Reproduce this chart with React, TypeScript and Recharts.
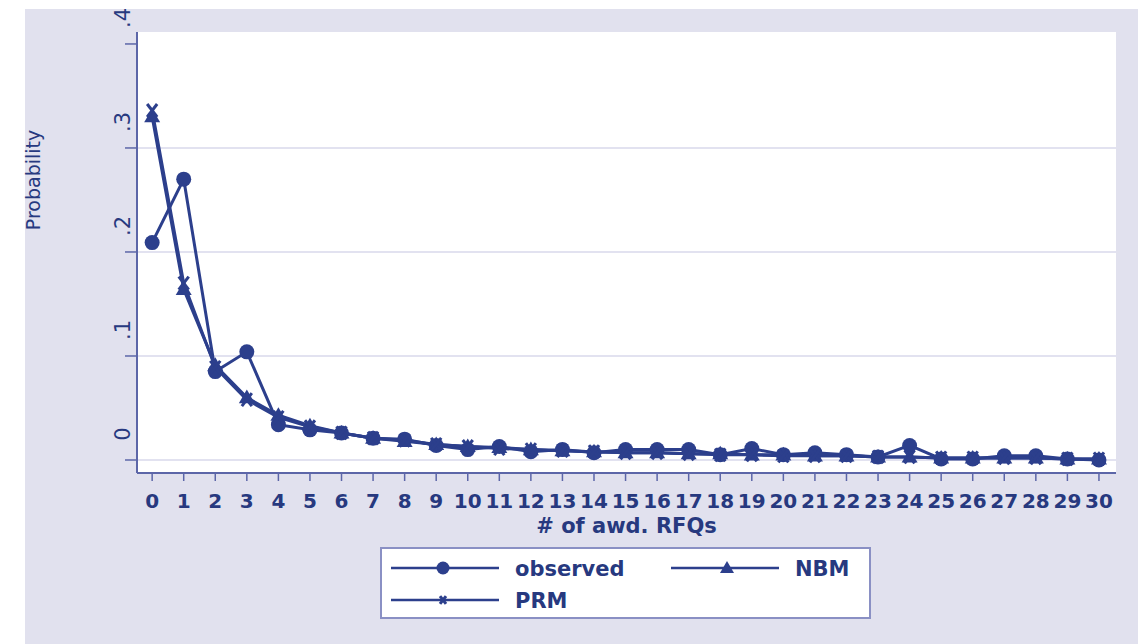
import React from 'react';
import { LineChart, Line, XAxis, YAxis, CartesianGrid } from 'recharts';

const categories = [0, 1, 2, 3, 4, 5, 6, 7, 8, 9, 10, 11, 12, 13, 14, 15, 16, 17, 18, 19, 20, 21, 22, 23, 24, 25, 26, 27, 28, 29, 30];
const observed = [0.209, 0.270, 0.085, 0.104, 0.034, 0.029, 0.026, 0.021, 0.020, 0.014, 0.010, 0.013, 0.008, 0.010, 0.007, 0.010, 0.010, 0.010, 0.005, 0.011, 0.005, 0.007, 0.005, 0.003, 0.014, 0.001, 0.001, 0.004, 0.004, 0.001, 0.000];
const nbm = [0.330, 0.164, 0.091, 0.060, 0.043, 0.033, 0.026, 0.021, 0.018, 0.015, 0.013, 0.012, 0.010, 0.009, 0.008, 0.007, 0.007, 0.006, 0.006, 0.005, 0.005, 0.004, 0.004, 0.003, 0.003, 0.002, 0.002, 0.002, 0.002, 0.001, 0.001];
const prm = [0.336, 0.170, 0.089, 0.058, 0.041, 0.032, 0.026, 0.021, 0.019, 0.015, 0.013, 0.011, 0.010, 0.009, 0.008, 0.007, 0.007, 0.006, 0.005, 0.005, 0.004, 0.004, 0.004, 0.003, 0.003, 0.002, 0.002, 0.002, 0.002, 0.001, 0.001];
const yTicks = [0, 0.1, 0.2, 0.3, 0.4];
const yTickLabels = ['0', '.1', '.2', '.3', '.4'];
const gridValues = [0, 0.1, 0.2, 0.3];
const seriesNames = ['observed', 'NBM', 'PRM'];
const xTitle = '# of awd. RFQs';
const yTitle = 'Probability';

const data = categories.map((c, i) => ({ x: c, observed: observed[i], NBM: nbm[i], PRM: prm[i] }));

const NAVY = '#2c3f8c';
const TEXT = '#27397f';
const BG = '#e1e1ee';
const AXIS = '#5c66a8';
const GRID = '#e2e2f0';
const FONT = 'DejaVu Sans';

const CircleMark = ({ cx, cy, r = 7.5 }: any) =>
  cx == null || cy == null ? null : <circle cx={cx} cy={cy} r={r} fill={NAVY} />;

const TriMark = ({ cx, cy, s = 8 }: any) =>
  cx == null || cy == null ? null : (
    <polygon
      points={`${cx},${cy - s} ${cx - s},${cy + s * 0.7} ${cx + s},${cy + s * 0.7}`}
      fill={NAVY}
    />
  );

const XMark = ({ cx, cy, s = 5 }: any) =>
  cx == null || cy == null ? null : (
    <g stroke={NAVY} strokeWidth={3}>
      <line x1={cx - s} y1={cy - s * 1.3} x2={cx + s} y2={cy + s * 1.3} />
      <line x1={cx + s} y1={cy - s * 1.3} x2={cx - s} y2={cy + s * 1.3} />
    </g>
  );

const YTick = ({ x, y, payload }: any) => {
  let idx = 0;
  yTicks.forEach((t, i) => {
    if (Math.abs(t - payload.value) < Math.abs(yTicks[idx] - payload.value)) idx = i;
  });
  const bx = x + 5;
  const cy = y - 26;
  return (
    <text x={bx} y={cy} transform={`rotate(-90 ${bx} ${cy})`} textAnchor="middle" fill={TEXT} fontSize={21} fontFamily={FONT}>
      {yTickLabels[idx]}
    </text>
  );
};

const XTick = ({ x, y, payload }: any) => (
  <text x={x} y={y} dy={25} textAnchor="middle" fill={TEXT} fontSize={20} fontWeight="bold" fontFamily={FONT}>
    {payload.value}
  </text>
);

const XTitle = (p: any) => {
  const vb = p.viewBox || { x: 137, y: 473, width: 979 };
  return (
    <text x={vb.x + vb.width / 2} y={vb.y + 60} textAnchor="middle" fill={TEXT} fontSize={21} fontWeight="bold" fontFamily={FONT}>
      {xTitle}
    </text>
  );
};

const YTitle = (p: any) => {
  const vb = p.viewBox || { x: 77, y: 32 };
  const bx = vb.x - 37;
  const cy = vb.y + 148;
  return (
    <text x={bx} y={cy} transform={`rotate(-90 ${bx} ${cy})`} textAnchor="middle" fill={TEXT} fontSize={19} fontFamily={FONT}>
      {yTitle}
    </text>
  );
};

const Legend = () => (
  <div
    style={{
      position: 'absolute',
      left: 380,
      top: 547,
      width: 491,
      height: 72,
      boxSizing: 'border-box',
      border: '2px solid #8a90c4',
      background: '#ffffff',
    }}
  >
    <svg width={487} height={68} style={{ position: 'absolute', left: 0, top: 0 }}>
      <g stroke={NAVY} strokeWidth={2.5}>
        <line x1={9} y1={19} x2={117} y2={19} />
        <line x1={289} y1={19} x2={397} y2={19} />
        <line x1={9} y1={51} x2={117} y2={51} />
      </g>
      <CircleMark cx={61} cy={19} r={6.5} />
      <TriMark cx={345} cy={19} s={7} />
      <XMark cx={61} cy={51} s={3} />
      <g fill={TEXT} fontSize={21} fontWeight="bold" fontFamily={FONT}>
        <text x={133} y={27}>{seriesNames[0]}</text>
        <text x={413} y={27}>{seriesNames[1]}</text>
        <text x={133} y={59}>{seriesNames[2]}</text>
      </g>
    </svg>
  </div>
);

export default function App() {
  return (
    <div style={{ position: 'absolute', left: 0, top: 0, width: 1138, height: 644, background: '#ffffff', overflow: 'hidden' }}>
      <div style={{ position: 'absolute', left: 25, top: 9, width: 1113, height: 635, background: BG }} />
      <div style={{ position: 'absolute', left: 0, top: 0 }}>
        <LineChart width={1138} height={644} data={data} margin={{ top: 32, right: 22, bottom: 111, left: 77 }}>
          <CartesianGrid fill="#ffffff" vertical={false} horizontalValues={gridValues} stroke={GRID} strokeWidth={2} />
          <XAxis
            dataKey="x"
            type="number"
            domain={[-0.48, 30.54]}
            ticks={categories}
            interval={0}
            allowDataOverflow
            height={60}
            tickSize={8}
            tickMargin={2}
            tick={<XTick />}
            axisLine={{ stroke: AXIS, strokeWidth: 2 }}
            tickLine={{ stroke: AXIS, strokeWidth: 1.5 }}
            label={{ content: XTitle }}
          />
          <YAxis
            type="number"
            domain={[-0.0125, 0.4115]}
            ticks={yTicks}
            allowDataOverflow
            width={60}
            tickSize={12}
            tickMargin={0}
            tick={<YTick />}
            axisLine={{ stroke: AXIS, strokeWidth: 2 }}
            tickLine={{ stroke: AXIS, strokeWidth: 1.5 }}
            label={{ content: YTitle }}
          />
          <Line
            dataKey="observed"
            stroke={NAVY}
            strokeWidth={3}
            isAnimationActive={false}
            activeDot={false}
            dot={(p: any) => <CircleMark key={`o${p.index}`} cx={p.cx} cy={p.cy} />}
          />
          <Line
            dataKey="NBM"
            stroke={NAVY}
            strokeWidth={3}
            isAnimationActive={false}
            activeDot={false}
            dot={(p: any) => <TriMark key={`n${p.index}`} cx={p.cx} cy={p.cy} />}
          />
          <Line
            dataKey="PRM"
            stroke={NAVY}
            strokeWidth={3}
            isAnimationActive={false}
            activeDot={false}
            dot={(p: any) => <XMark key={`p${p.index}`} cx={p.cx} cy={p.cy} />}
          />
        </LineChart>
      </div>
      <Legend />
    </div>
  );
}
